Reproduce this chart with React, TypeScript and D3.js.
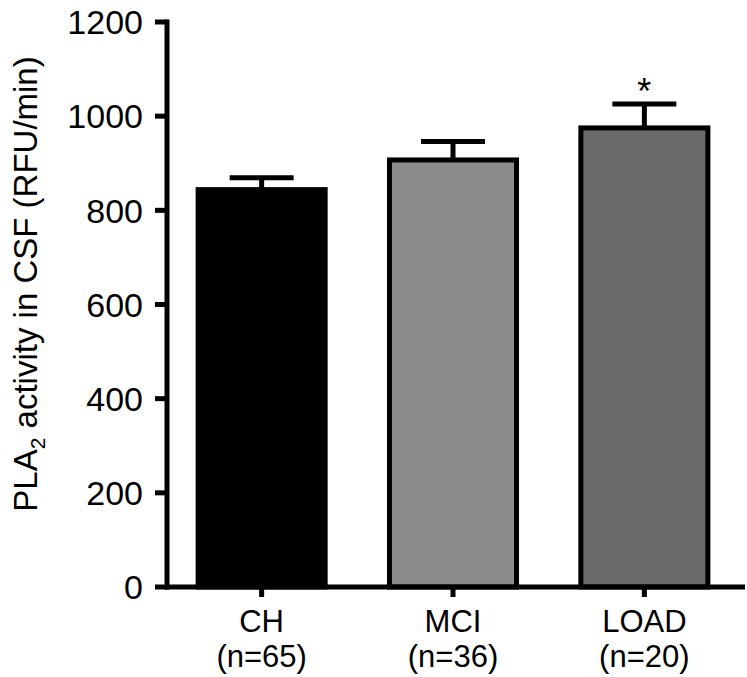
import React from "react";
import * as d3 from "d3";

// Group labels and sample sizes
const categories = ["CH", "MCI", "LOAD"];
const sampleSizes = ["(n=65)", "(n=36)", "(n=20)"];
// PLA2 activity in CSF (RFU/min): mean and mean + SEM
const means = [844, 907, 975];
const upperErrors = [869, 946, 1026];
const significant = [false, false, true];
const yTicks = [0, 200, 400, 600, 800, 1000, 1200];
const barColors = ["#000000", "#8c8c8c", "#6a6a6a"];

const W = 747;
const H = 677;
const FONT = "'Liberation Sans', Arial, Helvetica, sans-serif";

const App = () => {
  const y = d3.scaleLinear().domain([0, 1200]).range([587, 22]);
  const x = d3
    .scaleBand()
    .domain(categories)
    .range([165, 741])
    .paddingInner(0.31)
    .paddingOuter(0.16);

  const bw = x.bandwidth();
  const sw = 5; // outline width
  const capW = 64;

  return (
    <svg
      width={W}
      height={H}
      style={{ position: "absolute", left: 0, top: 0, background: "#fff" }}
      fontFamily={FONT}
    >
      {/* Bars */}
      {categories.map((c, i) => {
        const x0 = x(c)!;
        const cx = x0 + bw / 2;
        return (
          <g key={c}>
            {/* error bar */}
            <line x1={cx} x2={cx} y1={y(means[i])} y2={y(upperErrors[i])} stroke="#000" strokeWidth={sw} />
            <line
              x1={cx - capW / 2}
              x2={cx + capW / 2}
              y1={y(upperErrors[i])}
              y2={y(upperErrors[i])}
              stroke="#000"
              strokeWidth={sw}
            />
            <rect
              x={x0 + sw / 2}
              y={y(means[i])}
              width={bw - sw}
              height={y(0) - y(means[i])}
              fill={barColors[i]}
              stroke="#000"
              strokeWidth={sw}
            />
            {significant[i] && (
              <text x={cx} y={y(upperErrors[i])} fontSize={36} textAnchor="middle">
                *
              </text>
            )}
          </g>
        );
      })}

      {/* Y axis */}
      <line x1={167} x2={167} y1={y(1200) - 2.5} y2={y(0) + 2.5} stroke="#000" strokeWidth={sw} />
      {yTicks.map((t) => (
        <g key={t}>
          <line x1={155} x2={167} y1={y(t)} y2={y(t)} stroke="#000" strokeWidth={sw} />
          <text x={143} y={y(t)} dy="0.36em" fontSize={34} textAnchor="end">
            {t}
          </text>
        </g>
      ))}

      {/* X axis */}
      <line x1={165} x2={745} y1={y(0)} y2={y(0)} stroke="#000" strokeWidth={sw} />
      {categories.map((c, i) => {
        const cx = x(c)! + bw / 2;
        return (
          <g key={c}>
            <line x1={cx} x2={cx} y1={y(0)} y2={y(0) + 10} stroke="#000" strokeWidth={sw} />
            <text x={cx} y={632} fontSize={31} textAnchor="middle">
              {c}
            </text>
            <text x={cx} y={667} fontSize={31} textAnchor="middle">
              {sampleSizes[i]}
            </text>
          </g>
        );
      })}

      {/* Y label */}
      <text transform="translate(37,284) rotate(-90)" fontSize={33} textAnchor="middle">
        PLA
        <tspan fontSize={21} dy={8}>
          2
        </tspan>
        <tspan dy={-8}> activity in CSF (RFU/min)</tspan>
      </text>
    </svg>
  );
};

export default App;
